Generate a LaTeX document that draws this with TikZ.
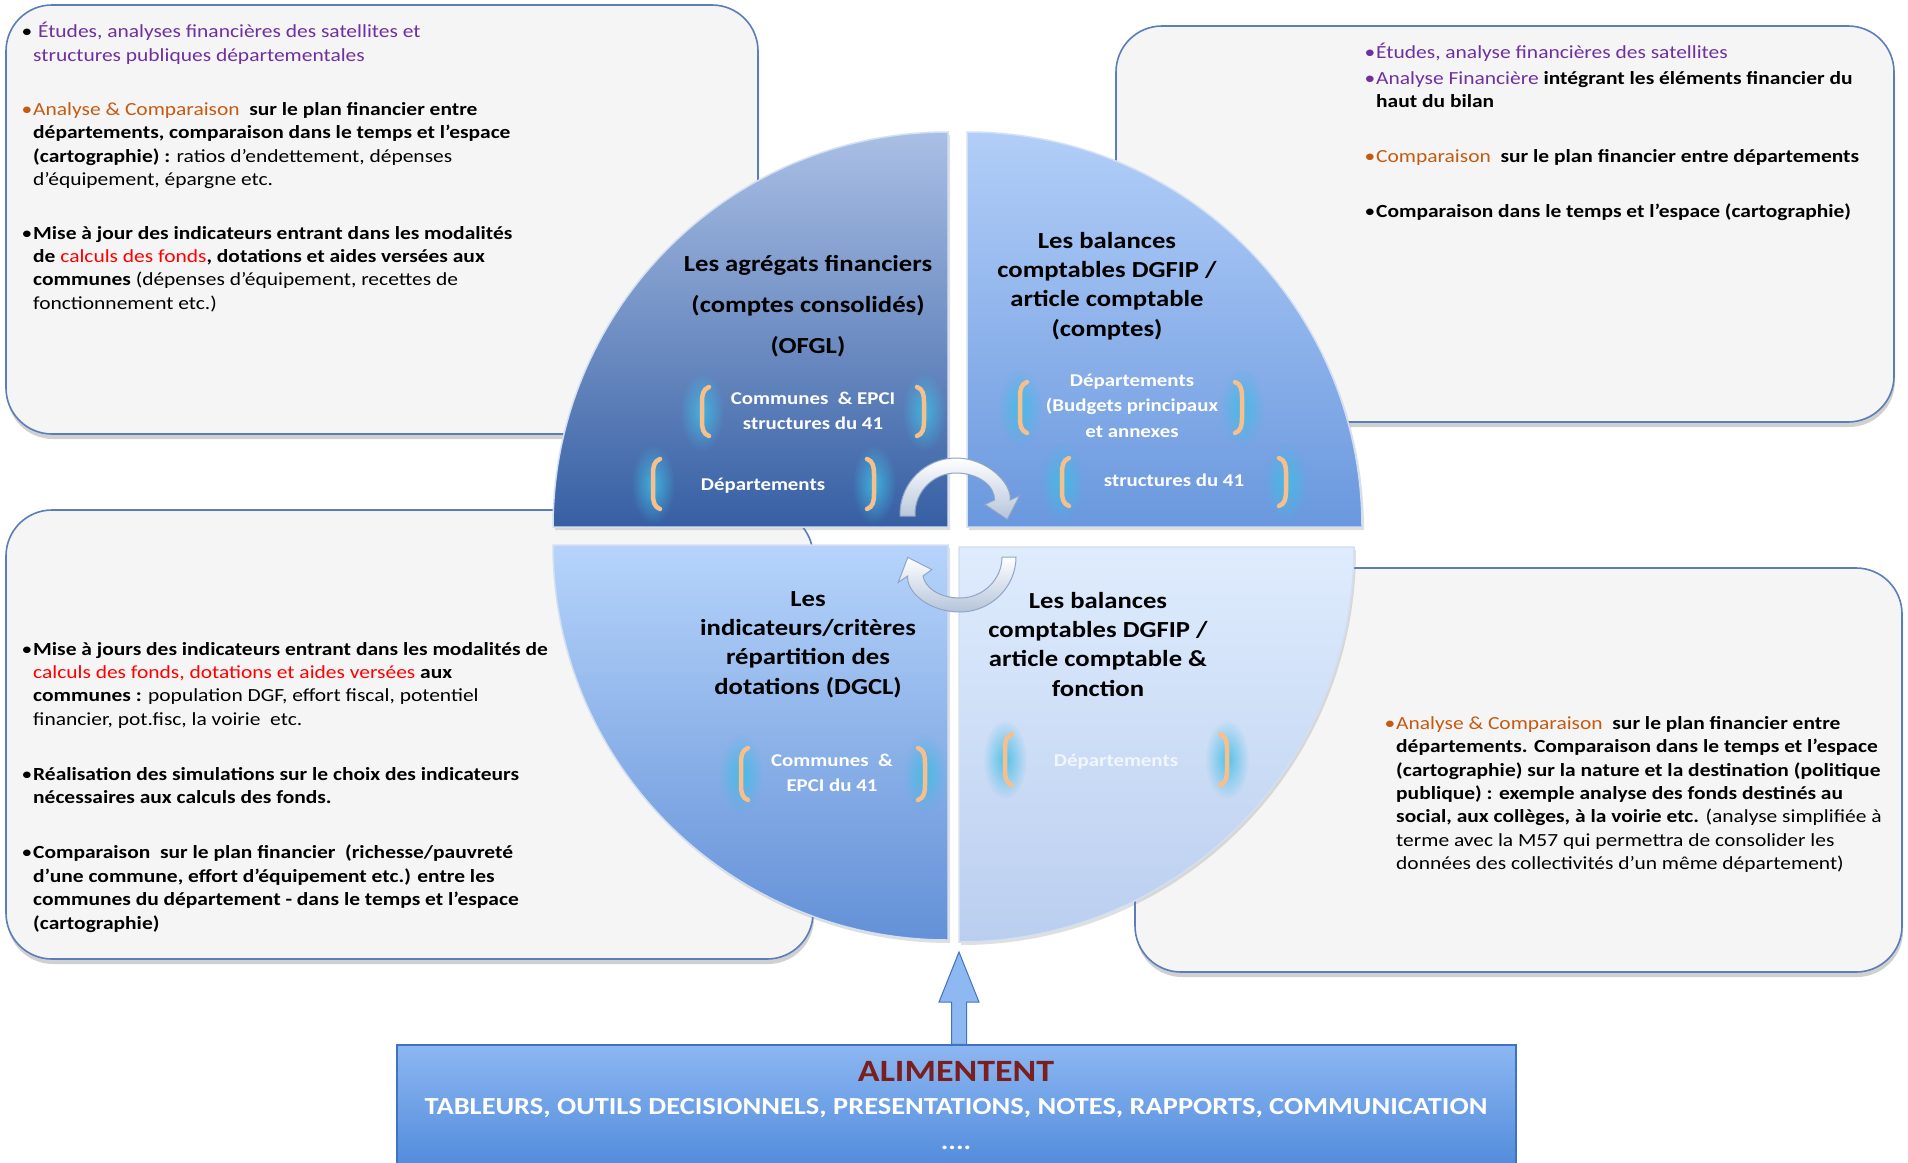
\documentclass[tikz,border=0pt]{standalone}
\usepackage{fontspec}
\setmainfont{Carlito}[FakeStretch=1.16]
\usetikzlibrary{shadows,fadings}
\definecolor{purp}{HTML}{7030A0}
\definecolor{orng}{HTML}{C55A11}
\definecolor{rd}{HTML}{FF0000}
\definecolor{boxborder}{HTML}{5A7DBC}
\definecolor{boxfill}{HTML}{F5F5F5}
\definecolor{tlTop}{HTML}{AABFE5}
\definecolor{tlBot}{HTML}{365FA3}
\definecolor{trTop}{HTML}{B2CEF8}
\definecolor{trBot}{HTML}{6A98DE}
\definecolor{blTop}{HTML}{B6D4FB}
\definecolor{blBot}{HTML}{6390D7}
\definecolor{brTop}{HTML}{DFECFD}
\definecolor{brBot}{HTML}{BACEEF}
\definecolor{quadedge}{HTML}{D3DFF2}
\definecolor{brkc}{HTML}{F7BF8C}
\definecolor{glowc}{HTML}{3FBDE6}
\definecolor{alimred}{HTML}{7A1E1E}
\definecolor{alimTop}{HTML}{8CB7F2}
\definecolor{alimBot}{HTML}{4985D8}
\definecolor{alimedge}{HTML}{4072C2}
\definecolor{uparrfill}{HTML}{8DB8F2}
\definecolor{curvedge}{HTML}{8FA5C6}
\definecolor{curvbot}{HTML}{B5C4DA}
\definecolor{brItem}{HTML}{F2F5FB}

\tikzfading[name=glowfade, inner color=transparent!0, outer color=transparent!100]

\newcommand\bul[1][black]{\llap{\textcolor{#1}{•}\hspace{1pt}}}
\newcommand\bpair[4]{%
 \fill[glow] (#1,{(#3+#4)/2}) ellipse (22pt and 40pt);
 \fill[glow] (#2,{(#3+#4)/2}) ellipse (22pt and 40pt);
 \draw[brk] ({#1+7},#3) .. controls ({#1+1},{#3+2}) and (#1,{#3+8}) .. (#1,{#3+15}) -- (#1,{#4-15}) .. controls (#1,{#4-8}) and ({#1+1},{#4-2}) .. ({#1+7},#4);
 \draw[brk] ({#2-7},#3) .. controls ({#2-1},{#3+2}) and (#2,{#3+8}) .. (#2,{#3+15}) -- (#2,{#4-15}) .. controls (#2,{#4-8}) and ({#2-1},{#4-2}) .. ({#2-7},#4);
}

\tikzset{
 infobox/.style={draw=boxborder, line width=1.6pt, fill=boxfill, rounded corners=46pt,
   drop shadow={shadow xshift=1pt, shadow yshift=-5pt, opacity=0.3, fill=black!60}},
 body/.style={anchor=north west, inner sep=0pt, align=left, font=\fontsize{18.5}{23.4}\selectfont},
 qtitle/.style={anchor=north, inner sep=0pt, align=center, font=\fontsize{23}{29.3}\selectfont\bfseries},
 qitem/.style={anchor=north, inner sep=0pt, align=center, text=white, font=\fontsize{18}{25.3}\selectfont\bfseries},
 quad/.style={draw=quadedge, line width=1.5pt,
   drop shadow={shadow xshift=2pt, shadow yshift=-3pt, opacity=0.25}},
 brk/.style={draw=brkc, line width=4.5pt, line cap=round},
 glow/.style={fill=glowc, opacity=0.85, path fading=glowfade},
 curvarr/.style={draw=curvedge, line width=1pt, top color=white, bottom color=curvbot},
 uparrow/.style={draw=alimedge, line width=1pt, fill=uparrfill},
}

\begin{document}
\begin{tikzpicture}[x=1pt, y=-1pt]
\useasboundingbox (0,0) rectangle (1908,1162);
\clip (0,0) rectangle (1908,1162);
\fill[white] (0,0) rectangle (1908,1162);

% information boxes
\path[infobox] (6,5) rectangle (758,434);
\path[infobox] (1116,26) rectangle (1894,422);
\path[infobox] (6,510) rectangle (813,959);
\path[infobox] (1135,568) rectangle (1902,972);

% quadrants
\path[quad, top color=tlTop, bottom color=tlBot] (948,527) -- (553,527) .. controls (553,308.8) and (729.8,132) .. (948,132) -- cycle;
\path[quad, top color=trTop, bottom color=trBot] (967,527) -- (967,132) .. controls (1185.2,132) and (1362,308.8) .. (1362,527) -- cycle;
\path[quad, top color=blTop, bottom color=blBot] (948,545) -- (553,545) .. controls (553,763.2) and (729.8,940) .. (948,940) -- cycle;
\path[quad, top color=brTop, bottom color=brBot] (959,547) -- (1354,547) .. controls (1354,765.2) and (1177.2,942) .. (959,942) -- cycle;

% brackets with glow
\bpair{702}{924}{387}{436}
\bpair{653}{874}{459}{509}
\bpair{1020}{1242}{382}{433}
\bpair{1062}{1286}{458}{506}
\bpair{741}{925}{748}{800}
\bpair{1005}{1227}{734}{785}

% quadrant titles
\node[qtitle, font=\fontsize{23}{41}\selectfont\bfseries] (ttl) at (808,255) {Les agrégats financiers\\(comptes consolidés)\\(OFGL)};
\node[qtitle] (ttr) at (1107,232) {Les balances\\comptables DGFIP /\\article comptable\\(comptes)};
\node[qtitle] (tbl) at (808,591) {Les\\indicateurs/critères\\répartition des\\dotations (DGCL)};
\node[qtitle] (tbr) at (1098,592) {Les balances\\comptables DGFIP /\\article comptable \&\\fonction};

% quadrant items
\node[qitem] (itla) at (813,392) {Communes\ \ \& EPCI\\structures du 41};
\node[qitem] (itlb) at (763,478) {Départements};
\node[qitem] (itra) at (1132,374) {Départements\\(Budgets principaux\\et annexes};
\node[qitem] (itrb) at (1174,474) {structures du 41};
\node[qitem] (ibla) at (832,754) {Communes\ \ \&\\EPCI du 41};
\node[qitem, text=brItem] (ibra) at (1116,754) {Départements};

% curved arrows
\path[curvarr] (900,516) -- (900,514) .. controls (900,483.1) and (925.1,458) .. (956,458) .. controls (986.9,458) and (1012,483.1) .. (1010.2,500) -- (1019.7,495.5) -- (1007.3,519.4) -- (984.9,504.5) -- (994.5,500) .. controls (995,486) and (978.6,473) .. (956,473) .. controls (933.4,473) and (915,491.4) .. (915,514) -- (915,516) -- cycle;
\path[curvarr] (1016,557) .. controls (1016,586.9) and (990.9,612) .. (960,612) .. controls (929.1,612) and (906,592) .. (907.7,576) -- (898.2,582.4) -- (907.8,557.3) -- (931.8,569.6) -- (923,576) .. controls (925,588) and (940,598) .. (960,598) .. controls (983.2,598) and (1002,579.2) .. (1002,557) -- cycle;

% text of the boxes
\node[body] (tl1) at (33,22) {\bul\ \textcolor{purp}{Études, analyses financières des satellites et}\\\textcolor{purp}{structures publiques départementales}};
\node[body] (tl2) at (33,102) {\bul[orng]\textcolor{orng}{Analyse \& Comparaison}\ \ \textbf{sur le plan financier entre}\\\textbf{départements, comparaison dans le temps et l’espace}\\\textbf{(cartographie) :} ratios d’endettement, dépenses\\d’équipement, épargne etc.};
\node[body] (tl3) at (33,226) {\bul\textbf{Mise à jour des indicateurs entrant dans les modalités}\\\textbf{de} \textcolor{rd}{calculs des fonds}\textbf{, dotations et aides versées aux}\\\textbf{communes} (dépenses d’équipement, recettes de\\fonctionnement etc.)};

\node[body] (tr1) at (1376,43) {\bul[purp]\textcolor{purp}{Études, analyse financières des satellites}};
\node[body] (tr2) at (1376,71) {\bul[purp]\textcolor{purp}{Analyse Financière} \textbf{intégrant les éléments financier du}\\\textbf{haut du bilan}};
\node[body] (tr3) at (1376,149) {\bul[orng]\textcolor{orng}{Comparaison}\ \ \textbf{sur le plan financier entre départements}};
\node[body] (tr4) at (1376,204) {\bul\textbf{Comparaison dans le temps et l’espace (cartographie)}};

\node[body] (bl1) at (33,642) {\bul\textbf{Mise à jours des indicateurs entrant dans les modalités de}\\\textcolor{rd}{calculs des fonds, dotations et aides versées} \textbf{aux}\\\textbf{communes :} population DGF, effort fiscal, potentiel\\financier, pot.fisc, la voirie\ \ etc.};
\node[body] (bl2) at (33,767) {\bul\textbf{Réalisation des simulations sur le choix des indicateurs}\\\textbf{nécessaires aux calculs des fonds.}};
\node[body] (bl3) at (33,845) {\bul\textbf{Comparaison\ \ sur le plan financier\ \ (richesse/pauvreté}\\\textbf{d’une commune, effort d’équipement etc.) entre les}\\\textbf{communes du département - dans le temps et l’espace}\\\textbf{(cartographie)}};

\node[body] (br1) at (1396,716) {\bul[orng]\textcolor{orng}{Analyse \& Comparaison}\ \ \textbf{sur le plan financier entre}\\\textbf{départements. Comparaison dans le temps et l’espace}\\\textbf{(cartographie) sur la nature et la destination (politique}\\\textbf{publique) : exemple analyse des fonds destinés au}\\\textbf{social, aux collèges, à la voirie etc.} (analyse simplifiée à\\terme avec la M57 qui permettra de consolider les\\données des collectivités d’un même département)};

% bottom box and up arrow
\node[draw=alimedge, line width=1.2pt, top color=alimTop, bottom color=alimBot,
  minimum width=1119pt, minimum height=140pt, inner sep=0pt] (alim) at (956.5,1115) {};
\coordinate (circbot) at (959,952);
\path[uparrow] (alim.north -| 951.5,0) -- (951.5,1002) -- (939,1002) -- (circbot) -- (979,1002) -- (966.5,1002) -- (alim.north -| 966.5,0) -- cycle;
\node[inner sep=0pt, text=alimred, font=\fontsize{31}{31}\selectfont\bfseries] (alimt) at (956,1071) {ALIMENTENT};
\node[inner sep=0pt, text=white, font=\fontsize{24.5}{25}\selectfont\bfseries] (alimsub) at (956,1108) {TABLEURS, OUTILS DECISIONNELS, PRESENTATIONS, NOTES, RAPPORTS, COMMUNICATION};
\node[inner sep=0pt, text=white, font=\fontsize{24.5}{25}\selectfont\bfseries, anchor=base] (alimdots) at (956,1149) {....};
\end{tikzpicture}
\end{document}
